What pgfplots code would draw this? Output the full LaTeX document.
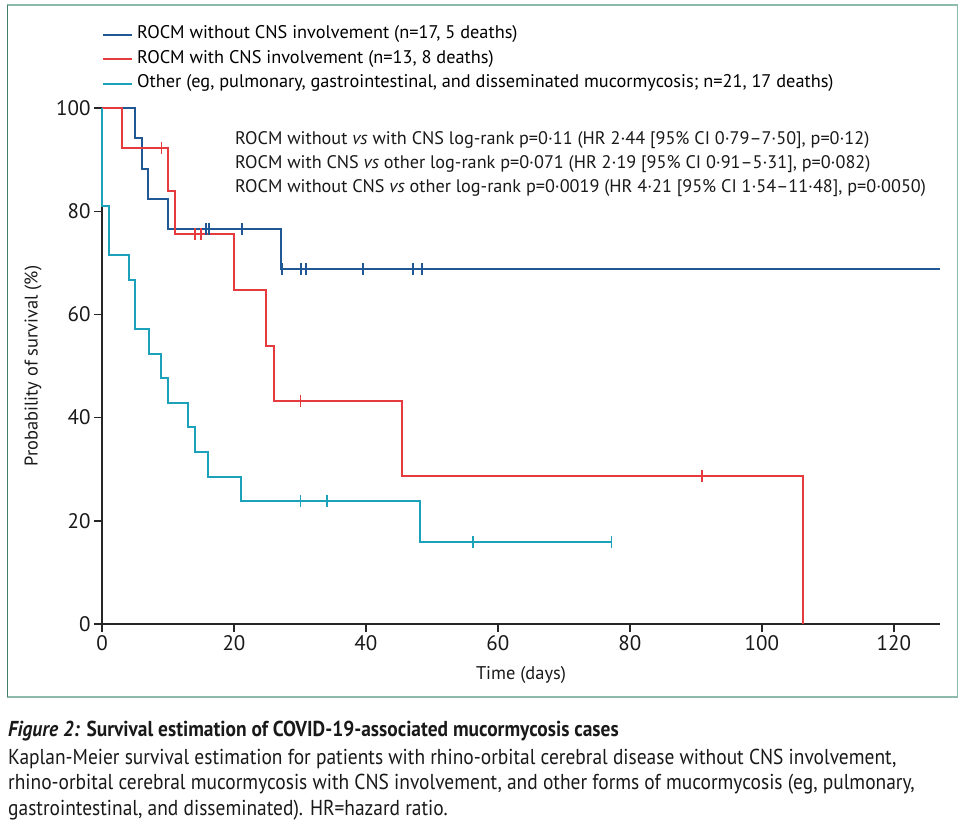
\documentclass[border=0pt]{standalone}
\usepackage{fontspec}
\setmainfont{PT Sans}
\newfontfamily\capfont{PT Sans}[FakeStretch=0.9]
\usepackage{pgfplots}
\pgfplotsset{compat=1.18}
\definecolor{kmblue}{HTML}{1F5894}
\definecolor{kmred}{HTML}{E63B3E}
\definecolor{kmcyan}{HTML}{1BA1BA}
\definecolor{framegreen}{HTML}{8DBBA9}
\definecolor{framedark}{HTML}{3F7D64}

\begin{document}
\begin{tikzpicture}
\path[use as bounding box] (0pt,0pt) rectangle (970pt,-832pt);
% figure frame
\draw[framegreen, line width=1.6pt] (7.5pt,-5pt) rectangle (957.5pt,-697pt);
\draw[framedark, line width=1.6pt] (7.5pt,-5pt) -- (7.5pt,-697pt);

\begin{axis}[
    at={(102pt,-624pt)}, anchor=south west,
    scale only axis, width=838pt, height=516pt,
    xmin=0, xmax=127, ymin=0, ymax=100,
    clip=false,
    axis x line*=bottom, axis y line*=left,
    axis line style={line width=1.4pt, black!85},
    xtick={0,20,...,120}, ytick={0,20,...,100},
    tick align=outside, major tick length=8pt,
    tick style={line width=1.4pt, black!85},
    /pgf/number format/assume math mode=true,
    tick label style={font=\fontsize{21}{24}\selectfont, text=black!90},
    label style={font=\fontsize{18.4}{22}\selectfont, text=black!90},
    xlabel={Time (days)},
    ylabel={Probability of survival (\%)},
    xlabel style={at={(axis description cs:0.5,-0.0988)}, anchor=center},
    ylabel style={at={(axis description cs:-0.0823,0.5)}, anchor=center},
    legend style={at={(axis description cs:0.0,1.159)}, anchor=north west,
        draw=none, fill=none, inner sep=0pt,
        font=\fontsize{18.3}{22}\selectfont, row sep=7.5pt,
        nodes={inner sep=0pt, text height=12.5pt, text depth=4.5pt},
        /tikz/every odd column/.append style={column sep=4pt}},
    legend cell align=left,
    legend image code/.code={\draw[#1, line width=2pt] (0pt,0pt) -- (29pt,0pt);},
]
% ROCM without CNS involvement
\addplot[kmblue, line width=2pt, const plot] coordinates {
    (0,100) (5,94.12) (6,88.24) (7,82.35) (10,76.47) (27.1,68.82) (127,68.82)
};
\addlegendentry{ROCM without CNS involvement (n=17, 5 deaths)}
% ROCM with CNS involvement
\addplot[kmred, line width=2pt, const plot] coordinates {
    (0,100) (3.1,92.31) (10,83.92) (11,75.52) (20,64.73) (24.9,53.94)
    (26,43.15) (45.4,28.77) (106.2,0)
};
\addlegendentry{ROCM with CNS involvement (n=13, 8 deaths)}
% Other forms
\addplot[kmcyan, line width=2pt, const plot] coordinates {
    (0,100) (0,80.95) (1.06,71.43) (4.1,66.67) (5,57.14) (7.1,52.38)
    (9,47.62) (10,42.86) (13.1,38.10) (14.1,33.33) (16,28.57)
    (21.1,23.81) (48.2,15.87) (77.3,15.87)
};
\addlegendentry{Other (eg, pulmonary, gastrointestinal, and disseminated mucormycosis; n=21, 17 deaths)}

% censored observations
\addplot[kmblue, only marks, mark=|, mark size=6pt, mark options={line width=1.9pt}, forget plot] coordinates {
    (15.7,76.47) (16.2,76.47) (21.2,76.47) (27.3,68.82) (30.2,68.82) (30.9,68.82)
    (39.5,68.82) (47.1,68.82) (48.5,68.82)
};
\addplot[kmred, only marks, mark=|, mark size=6pt, mark options={line width=1.7pt}, forget plot] coordinates {
    (9.0,92.31) (14.1,75.52) (15.0,75.52) (30.1,43.15) (90.9,28.77)
};
\addplot[kmcyan, only marks, mark=|, mark size=6pt, mark options={line width=1.7pt}, forget plot] coordinates {
    (30.1,23.81) (34.1,23.81) (56.2,15.87) (77.2,15.87)
};
\end{axis}

% test results
\node[anchor=north west, align=left, inner sep=0pt, text=black!90,
      font=\fontsize{18.2}{24}\selectfont] at (235pt,-131pt) {%
ROCM without \textit{vs} with CNS log-rank p=0·11 (HR 2·44 [95\% CI 0·79–7·50], p=0·12)\\
ROCM with CNS \textit{vs} other log-rank p=0·071 (HR 2·19 [95\% CI 0·91–5·31], p=0·082)\\
ROCM without CNS \textit{vs} other log-rank p=0·0019 (HR 4·21 [95\% CI 1·54–11·48], p=0·0050)};

% caption
\node[anchor=north west, align=left, inner sep=0pt, text=black!90,
      font=\capfont\fontsize{21.6}{25.5}\selectfont] at (8pt,-721pt) {%
\textbf{\textit{Figure 2:} Survival estimation of COVID-19-associated mucormycosis cases}\\[2pt]
Kaplan-Meier survival estimation for patients with rhino-orbital cerebral disease without CNS involvement,\\
rhino-orbital cerebral mucormycosis with CNS involvement, and other forms of mucormycosis (eg, pulmonary,\\
gastrointestinal, and disseminated). HR=hazard ratio.};
\end{tikzpicture}
\end{document}
